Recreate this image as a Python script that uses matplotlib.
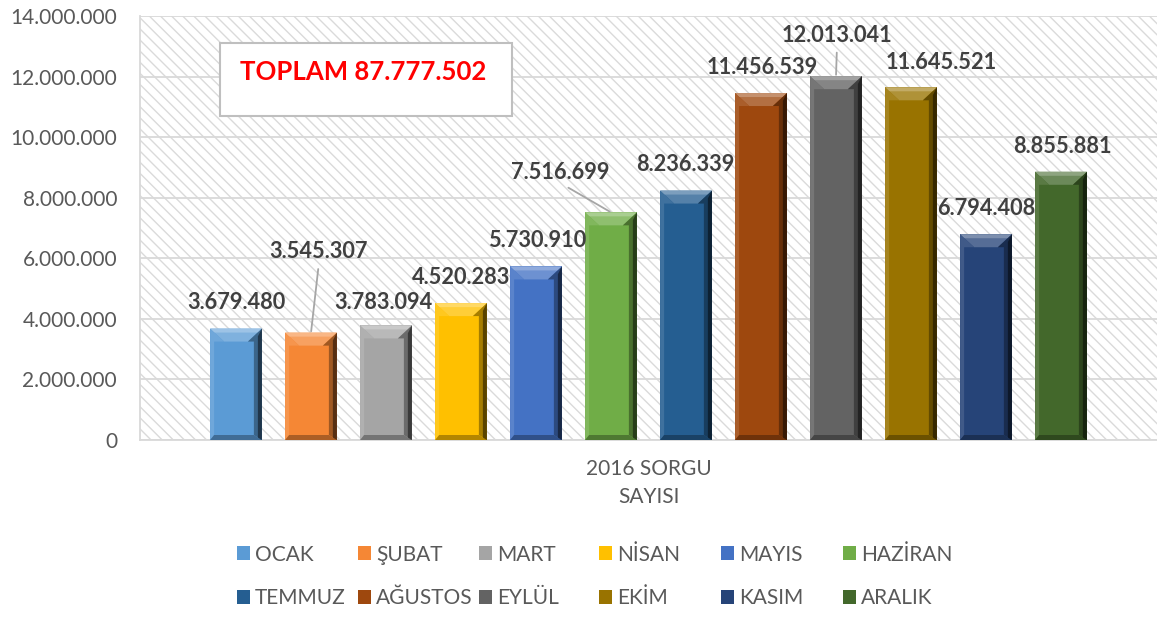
import matplotlib
matplotlib.use('Agg')
import matplotlib.pyplot as plt
from matplotlib.patches import Rectangle, Polygon
from matplotlib.colors import to_rgb
import numpy as np

plt.rcParams['font.family'] = ['Lato', 'DejaVu Sans']
plt.rcParams['hatch.linewidth'] = 1.0

months = ['OCAK', 'ŞUBAT', 'MART', 'NİSAN', 'MAYIS', 'HAZİRAN',
          'TEMMUZ', 'AĞUSTOS', 'EYLÜL', 'EKİM', 'KASIM', 'ARALIK']
queries = [3679480, 3545307, 3783094, 4520283, 5730910, 7516699,
           8236339, 11456539, 12013041, 11645521, 6794408, 8855881]
colors = ['#5B9BD5', '#F58735', '#A5A5A5', '#FFC000', '#4472C4', '#70AD47',
          '#255E91', '#9E480E', '#636363', '#997300', '#264478', '#43682B']
yticks = [0, 2000000, 4000000, 6000000, 8000000, 10000000, 12000000, 14000000]
category = '2016 SORGU\nSAYISI'
total_text = 'TOPLAM 87.777.502'

# label placement (pixel offsets from bar top) and which ones get a leader line
label_off = [(0, 26), (8, 81), (-3, 23), (0, 26), (1, 26), (-51, 40),
             (-1, 26), (1, 26), (1, 41), (30, 25), (0, 26), (1, 25)]
leader = [False, True, False, False, False, True,
          False, False, True, False, False, False]

W, H = 1157, 617
fig = plt.figure(figsize=(W / 100, H / 100), dpi=100)
ax = fig.add_axes([140 / W, 1 - 440 / H, 1017 / W, 424 / H])
ax.set_xlim(-1.28, 12.28)
ax.set_ylim(0, 14000000)

# hatched plot area
ax.add_patch(Rectangle((0, 0), 1, 1, transform=ax.transAxes, facecolor='white',
                       edgecolor='#dadada', linewidth=0, hatch='\\\\\\', zorder=0))

grid_c = '#d9d9d9'
ax.set_yticks(yticks)
ax.set_yticklabels([f'{t:,}'.replace(',', '.') for t in yticks])
ax.yaxis.grid(True, color=grid_c, linewidth=1.3, zorder=1)
ax.set_axisbelow(True)
ax.tick_params(axis='y', length=0, pad=16.5, labelsize=15, labelcolor='#595959')
ax.set_xticks([5.5])
ax.set_xticklabels([category], linespacing=1.45)
ax.tick_params(axis='x', length=0, pad=14, labelsize=15, labelcolor='#595959')
for s in ['top', 'right']:
    ax.spines[s].set_visible(False)
for s in ['left', 'bottom']:
    ax.spines[s].set_color(grid_c)
    ax.spines[s].set_linewidth(1.3)


def shade(c, f):
    r = np.array(to_rgb(c))
    if f > 0:
        return tuple(r + (1 - r) * f)
    return tuple(r * (1 + f))


# pixel -> data scale
px_x = 13.56 / 1017
px_y = 14000000 / 424

bw = 0.69
handles = []
for i, (m, v, c) in enumerate(zip(months, queries, colors)):
    b = ax.bar(i, v, width=bw, color=c, label=m, zorder=3, linewidth=0)
    handles.append(b)
    r = b[0]
    x0, w, h = r.get_x(), r.get_width(), r.get_height()
    tx, ty, sx, bb = 14 * px_x, 13 * px_y, 4 * px_x, 5 * px_y
    # top bevel
    ax.add_patch(Polygon([(x0, h), (x0 + w, h), (x0 + w - tx, h - ty), (x0 + tx, h - ty)],
                         closed=True, facecolor=shade(c, 0.22), linewidth=0, zorder=4))
    ax.add_patch(Polygon([(x0, h), (x0 + w, h), (x0 + w - 4 * px_x, h - 4 * px_y),
                          (x0 + 4 * px_x, h - 4 * px_y)],
                         closed=True, facecolor=shade(c, 0.4), linewidth=0, zorder=4))
    # left bevel
    ax.add_patch(Polygon([(x0, h), (x0 + tx, h - ty), (x0 + sx, h - ty), (x0 + sx, bb), (x0, 0)],
                         closed=True, facecolor=shade(c, 0.12), linewidth=0, zorder=4))
    # right bevel
    ax.add_patch(Polygon([(x0 + w, h), (x0 + w - tx, h - ty), (x0 + w - 2 * sx, h - ty),
                          (x0 + w - 2 * sx, bb), (x0 + w, 0)],
                         closed=True, facecolor=shade(c, -0.35), linewidth=0, zorder=4))
    ax.add_patch(Polygon([(x0 + w, h), (x0 + w - sx, h - ty * 0.6), (x0 + w - sx, 0), (x0 + w, 0)],
                         closed=True, facecolor=shade(c, -0.65), linewidth=0, zorder=4))
    # bottom bevel
    ax.add_patch(Polygon([(x0, 0), (x0 + w, 0), (x0 + w - 2 * sx, bb), (x0 + sx, bb)],
                         closed=True, facecolor=shade(c, -0.3), linewidth=0, zorder=4))

    dx, dy = label_off[i]
    txt = f'{v:,}'.replace(',', '.')
    kw = {}
    if leader[i]:
        kw['arrowprops'] = dict(arrowstyle='-', color='#a6a6a6', lw=1.3,
                                relpos=(0.5, 0), shrinkA=3, shrinkB=1)
    ax.annotate(txt, xy=(i, v), xytext=(dx, dy), textcoords='offset pixels',
                ha='center', va='center', fontsize=15.7, fontweight='bold',
                color='#404040', zorder=6, **kw)

# total box
ax.add_patch(Rectangle((80 / 1017, 324 / 424), 292 / 1017, 73 / 424, transform=ax.transAxes,
                       facecolor='white', edgecolor='#bfbfbf', linewidth=1.5, zorder=7))
ax.text(223 / 1017, 368 / 424, total_text, transform=ax.transAxes, ha='center', va='center',
        fontsize=18.5, fontweight='bold', color='#ff0000', zorder=8)

# legend: one two-row column per legend so the columns are evenly spaced
col_x = [237, 358, 479, 599, 721, 843]
for j, xp in enumerate(col_x):
    hs = [handles[j], handles[j + 6]]
    fig.legend(hs, [months[j], months[j + 6]], loc='center left',
               bbox_to_anchor=(xp / W, 1 - 576.5 / H), frameon=False,
               fontsize=15, labelcolor='#595959', handlelength=0.62, handleheight=0.62,
               handletextpad=0.25, labelspacing=1.15, borderpad=0, borderaxespad=0)

fig.savefig('out.png', dpi=100)
